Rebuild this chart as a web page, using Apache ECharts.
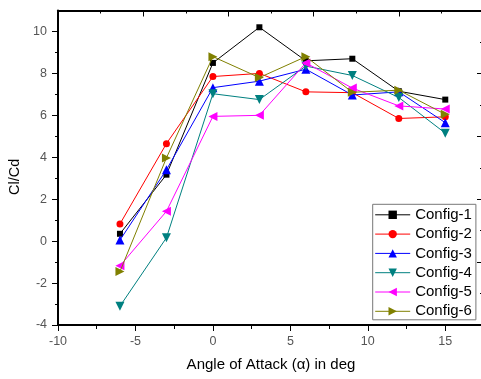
<!DOCTYPE html>
<html><head><meta charset="utf-8">
<script src="https://cdn.jsdelivr.net/npm/echarts@6/dist/echarts.min.js"></script>
<style>html,body{margin:0;padding:0;background:#fff}#c{width:481px;height:379px}</style>
</head><body><div id="c"></div>
<script>
const angles = [-6, -3, 0, 3, 6, 9, 12, 15];
const config1 = [0.35, 3.17, 8.5, 10.2, 8.6, 8.7, 7.15, 6.75];
const config2 = [0.82, 4.65, 7.85, 8.0, 7.12, 7.08, 5.85, 5.93];
const config3 = [0.05, 3.4, 7.32, 7.63, 8.2, 6.97, 7.12, 5.65];
const config4 = [-3.1, 0.16, 7.03, 6.75, 8.35, 7.9, 6.85, 5.15];
const config5 = [-1.18, 1.42, 5.95, 6.0, 8.5, 7.3, 6.45, 6.3];
const config6 = [-1.45, 3.97, 8.8, 7.8, 8.8, 7.1, 7.2, 6.05];
const seriesNames = ['Config-1', 'Config-2', 'Config-3', 'Config-4', 'Config-5', 'Config-6'];
const xTickValues = [-10, -5, 0, 5, 10, 15];
const yTickValues = [-4, -2, 0, 2, 4, 6, 8, 10];
const xTitle = 'Angle of Attack (\u03B1) in deg';
const yTitle = 'Cl/Cd';

const allData = [config1, config2, config3, config4, config5, config6];
const colors = ['#000000', '#ff0000', '#0000ff', '#008080', '#ff00ff', '#808000'];
const symbols = ['rect', 'circle', 'triangle', 'triangle', 'triangle', 'triangle'];
const rotations = [0, 0, 0, 180, 90, -90];
const sizes = [6, 7, 9, 9, 9, 9];
const FONT = 'Liberation Sans, Arial, sans-serif';

const chart = echarts.init(document.getElementById('c'), null, {renderer: 'canvas'});
const series = allData.map((vals, i) => ({
  name: seriesNames[i],
  type: 'line',
  xAxisIndex: 0, yAxisIndex: 0,
  data: angles.map((a, j) => [a, vals[j]]),
  symbol: symbols[i],
  symbolSize: sizes[i],
  symbolRotate: rotations[i],
  showAllSymbol: true,
  color: colors[i],
  lineStyle: {color: colors[i], width: 1},
  itemStyle: {color: colors[i]},
  emphasis: {disabled: true},
  z: 2 + i
}));

const axisLine = {show: true, onZero: false, lineStyle: {color: '#000', width: 2}};
chart.setOption({
  animation: false,
  backgroundColor: '#fff',
  grid: {left: 58, top: 10.5, right: -3, bottom: 54, containLabel: false, outerBoundsMode: 'none'},
  legend: {
    orient: 'vertical', left: 372.7, top: 204.3,
    itemWidth: 35, itemHeight: 10.5, itemGap: 4.3,
    padding: [3, 4, 1, 2],
    borderColor: '#777', borderWidth: 1,
    lineStyle: {width: 1},
    textStyle: {fontSize: 15, color: '#000', fontFamily: FONT},
    data: seriesNames
  },
  xAxis: [{
    type: 'value', position: 'bottom', min: -10, max: 17.5, interval: 5,
    axisLine: axisLine,
    axisTick: {show: true, inside: false, length: 6, lineStyle: {color: '#000', width: 1}, customValues: xTickValues},
    minorTick: {show: true, splitNumber: 2, length: 4, lineStyle: {color: '#000', width: 1}},
    axisLabel: {color: '#555', fontSize: 12.5, fontFamily: FONT, margin: 10, customValues: xTickValues},
    splitLine: {show: false},
    name: xTitle, nameLocation: 'middle', nameGap: 32,
    nameTextStyle: {fontSize: 15, color: '#000', fontFamily: FONT}
  }, {
    type: 'value', position: 'top', min: 0, max: 10, interval: 2,
    axisLine: axisLine,
    axisTick: {show: true, inside: true, length: 6, lineStyle: {color: '#000', width: 1}},
    minorTick: {show: true, splitNumber: 2, length: 3, lineStyle: {color: '#000', width: 1}},
    axisLabel: {show: false},
    splitLine: {show: false}
  }],
  yAxis: [{
    type: 'value', position: 'left', min: -4, max: 11, interval: 2,
    axisLine: axisLine,
    axisTick: {show: true, inside: false, length: 6, lineStyle: {color: '#000', width: 1}, customValues: yTickValues},
    minorTick: {show: true, splitNumber: 2, length: 3, lineStyle: {color: '#000', width: 1}},
    axisLabel: {color: '#555', fontSize: 12.5, fontFamily: FONT, margin: 11, customValues: yTickValues},
    splitLine: {show: false},
    name: yTitle, nameLocation: 'middle', nameGap: 32, nameRotate: 90,
    nameTextStyle: {fontSize: 14.5, color: '#000', fontFamily: FONT, padding: [0, 18, 0, 0]}
  }, {
    type: 'value', position: 'right', min: 0, max: 5, interval: 1,
    axisLine: axisLine,
    axisTick: {show: true, inside: true, length: 7, lineStyle: {color: '#000', width: 1}},
    minorTick: {show: true, splitNumber: 2, length: 4, lineStyle: {color: '#000', width: 1}},
    axisLabel: {show: false},
    splitLine: {show: false}
  }],
  series: series
});
</script>
</body></html>
